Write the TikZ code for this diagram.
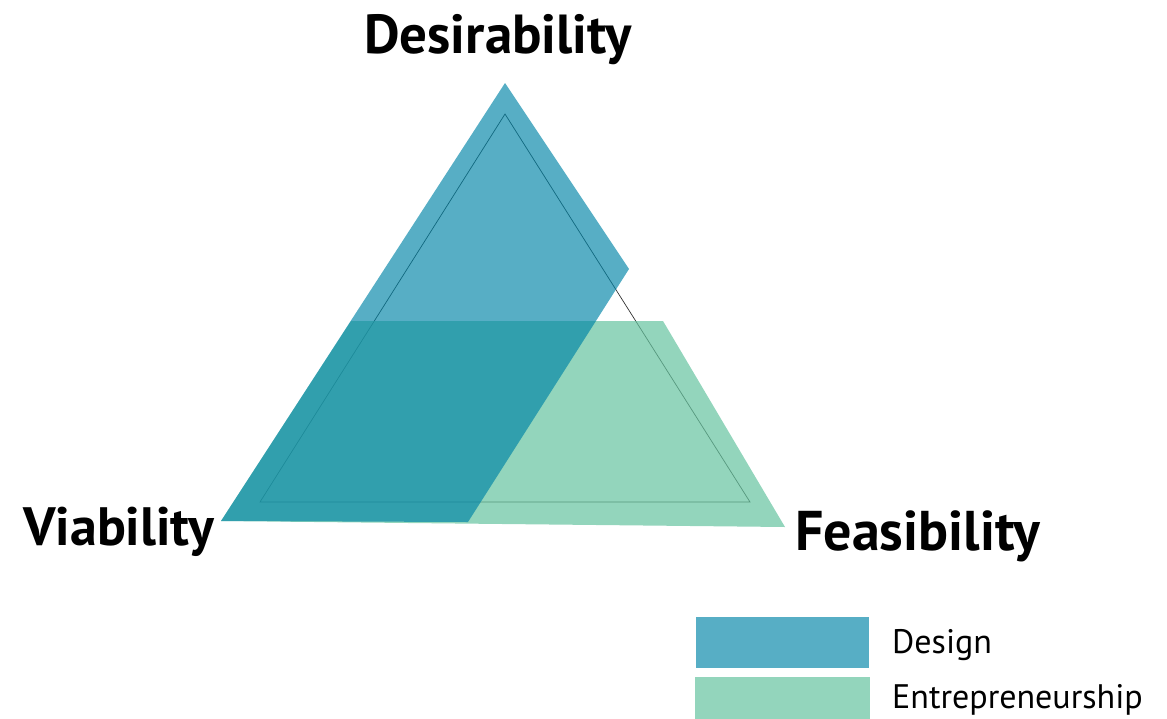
\documentclass[tikz,border=0pt]{standalone}
\usepackage{fontspec}
\setmainfont{PT Sans}
\usetikzlibrary{positioning}
\definecolor{designblue}{RGB}{0,132,167}
\definecolor{entregreen}{RGB}{101,195,159}

\begin{document}
\begin{tikzpicture}[x=1pt, y=-1pt,
    corner/.style={font=\bfseries\fontsize{54}{60}\selectfont, inner sep=0pt},
    keybox/.style={minimum width=173pt, minimum height=51pt, inner sep=0pt},
    keytext/.style={font=\fontsize{34}{36}\selectfont, inner sep=0pt}]
    \useasboundingbox (0,0) rectangle (1167,718);

    % Reference triangle
    \coordinate (top)   at (505,114);
    \coordinate (left)  at (260,502);
    \coordinate (right) at (750,502);
    \draw[black!80, line width=0.7pt] (top) -- (left) -- (right) -- cycle;

    % Entrepreneurship area
    \coordinate (g1) at (351,321);
    \coordinate (g2) at (663,321);
    \coordinate (g3) at (785,527);
    \coordinate (g4) at (221,521);
    \fill[entregreen, opacity=0.7] (g1) -- (g2) -- (g3) -- (g4) -- cycle;

    % Design area
    \coordinate (d1) at (505,83);
    \coordinate (d2) at (629,269);
    \coordinate (d3) at (468,522);
    \coordinate (d4) at (221,521);
    \fill[designblue, opacity=0.66] (d1) -- (d2) -- (d3) -- (d4) -- cycle;

    % Corner labels
    \node[corner, font=\bfseries\fontsize{55}{60}\selectfont, anchor=base] (des) at (498,53) {Desirability};
    \node[corner, anchor=base west] (via) at (23,545) {Viability};
    \node[corner, font=\bfseries\fontsize{56}{60}\selectfont, anchor=base west] (fea) at (795,550) {Feasibility};

    % Legend
    \node[keybox, fill=designblue, opacity=0.66] (designkey) at (782.5,642.5) {};
    \node[keybox, fill=entregreen, opacity=0.7, minimum width=175pt] (entrekey) at (782.5,702.5) {};
    \node[keytext, anchor=base west] (designtext) at (892,653) {Design};
    \node[keytext, anchor=base west] (entretext) at (892,708) {Entrepreneurship};
\end{tikzpicture}
\end{document}
